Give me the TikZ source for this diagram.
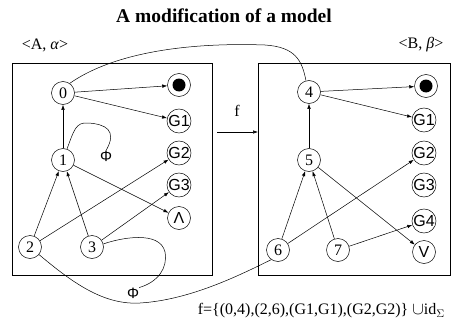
\documentclass[tikz,border=0pt]{standalone}
\usepackage{fontspec}
\setmainfont{Liberation Serif}
\newfontfamily\gsans{Liberation Sans}
\usetikzlibrary{arrows.meta}
\begin{document}
\begin{tikzpicture}[x=1pt,y=-1pt,
  st/.style={draw, circle, minimum size=23pt, inner sep=0pt, line width=0.5pt, font=\fontsize{16}{16}\selectfont},
  gs/.style={st, font=\gsans\fontsize{16}{16}\selectfont},
  arr/.style={-{Latex[length=5pt,width=3.5pt]}, line width=0.5pt},
  ln/.style={line width=0.5pt},
  box/.style={draw, line width=0.6pt},
  lbl/.style={font=\fontsize{16}{16}\selectfont, inner sep=0pt},
  phi/.style={font=\gsans\fontsize{15}{15}\selectfont, inner sep=0pt}]
\useasboundingbox (0,0) rectangle (452,329);
\node[font=\bfseries\fontsize{19.5}{19.5}\selectfont] (title) at (224,16) {A modification of a model};
\node[lbl] (la) at (45,45) {<A, \textit{α}>};
\node[lbl] (lb) at (421,45) {<B, \textit{β}>};
\draw[box] (12,63) rectangle (212,275);
\draw[box] (258,63) rectangle (450,275);
% left
\node[st] (n0) at (63,93) {0};
\node[st] (dl) at (179,85) {};
\fill (dl) circle (6.5pt);
\node[gs] (g1l) at (179,121) {G1};
\node[st] (n1) at (63,160) {1};
\node[gs] (g2l) at (179,153) {G2};
\node[gs] (g3l) at (179,185) {G3};
\node[gs] (wl) at (179,218) {Λ};
\node[st] (n2) at (30,247) {2};
\node[st] (n3) at (92,247) {3};
\draw[arr] (n0) -- (dl);
\draw[arr] (n0) -- (g1l);
\draw[arr] (n1) -- (n0);
\draw[arr] (n1) -- (wl);
\draw[arr] (n2) -- (n1);
\draw[arr] (n3) -- (n1);
\draw[arr] (n2) -- (g2l);
\draw[arr] (n3) -- (g3l);
\node[phi] (p1) at (106,156) {Φ};
\node[phi] (p2) at (133,293) {Φ};
\draw[ln] (n1.70) .. controls (74,130) and (76,122) .. (88,123) .. controls (105,124) and (118,130) .. (p1.north);
\draw[ln] (n3.15) .. controls (120,238) and (160,230) .. (165,252) .. controls (168,268) and (158,282) .. (p2.north east);
% right
\node[st] (n4) at (309,92) {4};
\node[st] (dr) at (426,86) {};
\fill (dr) circle (6.5pt);
\node[gs] (g1r) at (424,120) {G1};
\node[st] (n5) at (309,160) {5};
\node[gs] (g2r) at (424,153) {G2};
\node[gs] (g3r) at (424,185) {G3};
\node[gs] (g4r) at (424,221) {G4};
\node[gs] (vr) at (424,252) {V};
\node[st] (n6) at (278,250) {6};
\node[st] (n7) at (338,250) {7};
\draw[arr] (n4) -- (dr);
\draw[arr] (n4) -- (g1r);
\draw[arr] (n5) -- (n4);
\draw[arr] (n5) -- (vr);
\draw[arr] (n6) -- (n5);
\draw[arr] (n7) -- (n5);
\draw[arr] (n6) -- (g2r);
\draw[arr] (n7) -- (g4r);
% cross curves
\draw[ln] (n0.55) .. controls (110,55) and (180,42) .. (265,45) .. controls (295,47) and (302,60) .. (n4.105);
\draw[ln] (n2.-40) .. controls (75,285) and (105,305) .. (140,303) .. controls (190,300) and (240,275) .. (n6.-125);
% f arrow
\coordinate (fs) at (217,132);
\coordinate (fe) at (258,132);
\draw[arr] (fs) -- (fe);
\node[lbl] (f) at (237,111) {f};
\node[font=\fontsize{16}{16}\selectfont, anchor=east, inner sep=0pt] (form) at (445,311) {f=\{(0,4),(2,6),(G1,G1),(G2,G2)\} $\cup$id$_\Sigma$};
\end{tikzpicture}
\end{document}
